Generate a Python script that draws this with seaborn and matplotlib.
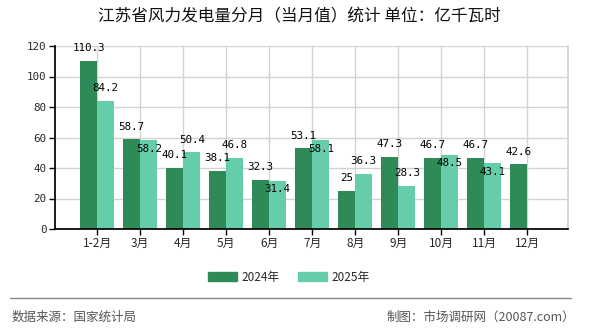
import numpy as np
import pandas as pd
import matplotlib
matplotlib.use("Agg")
import matplotlib.pyplot as plt
from matplotlib.lines import Line2D
from matplotlib.patches import Patch
import seaborn as sns

# --- data ---
months = ["1-2月", "3月", "4月", "5月", "6月", "7月", "8月", "9月", "10月", "11月", "12月"]
vals_2024 = [110.3, 58.7, 40.1, 38.1, 32.3, 53.1, 25, 47.3, 46.7, 46.7, 42.6]
vals_2025 = [84.2, 58.2, 50.4, 46.8, 31.4, 58.1, 36.3, 28.3, 48.5, 43.1, np.nan]
years = ["2024年", "2025年"]
colors = ["#2e8b57", "#66cdaa"]

df = pd.DataFrame({
    "month": months * 2,
    "year": [years[0]] * len(months) + [years[1]] * len(months),
    "value": vals_2024 + vals_2025,
})

sns.set_theme(style="white")
plt.rcParams["font.family"] = ["Noto Sans CJK SC", "DejaVu Sans"]

W, H = 590, 330
fig = plt.figure(figsize=(W / 100, H / 100), dpi=100)
ax = fig.add_axes([55 / W, 1 - 229 / H, (568 - 55) / W, (229 - 46) / H])

sns.barplot(data=df, x="month", y="value", hue="year", hue_order=years,
            palette=colors, width=0.8, saturation=1, linewidth=0,
            ax=ax, legend=False)

ax.set_xlim(-0.98, 10.95)
ax.set_ylim(0, 120)
ax.set_yticks(range(0, 121, 20))
ax.set_xlabel("")
ax.set_ylabel("")
ax.set_axisbelow(True)
ax.grid(True, color="#d3d3d3", lw=1)
ax.spines["top"].set_visible(False)
ax.spines["right"].set_color("#d3d3d3")
ax.spines["left"].set_color("black")
ax.spines["bottom"].set_color("black")
ax.tick_params(axis="both", direction="out", length=4, width=1, color="black",
               left=True, bottom=True, pad=2)
for t in ax.get_yticklabels():
    t.set_fontfamily("DejaVu Sans Mono")
    t.set_fontsize(7.8)
for t in ax.get_xticklabels():
    t.set_fontsize(8.5)

# value labels; 2025 labels go inside the bar when they would hit the 2024 label
for k, cont in enumerate(ax.containers):
    for bar in cont:
        h = bar.get_height()
        if np.isnan(h) or h == 0:
            continue
        xc = bar.get_x() + bar.get_width() / 2
        i = int(round(xc))
        if k == 1 and abs(vals_2025[i] - vals_2024[i]) < 7:
            dy = -6
        else:
            dy = 9
        ax.annotate(f"{h:g}", (xc, h), xytext=(0, dy), textcoords="offset points",
                    ha="center", va="center", fontsize=7.8,
                    family="DejaVu Sans Mono", color="black")

fig.text(299 / W, 1 - 17 / H, "江苏省风力发电量分月（当月值）统计 单位：亿千瓦时",
         ha="center", va="center", fontsize=12, color="#111111", fontweight="medium")

handles = [Patch(color=c, label=y) for c, y in zip(colors, years)]
fig.legend(handles=handles, loc="center", bbox_to_anchor=(289 / W, 1 - 277 / H),
           ncol=2, frameon=False, fontsize=8.5, handlelength=2.4, handleheight=0.9,
           handletextpad=0.4, columnspacing=1.6)

fig.add_artist(Line2D([10 / W, 571 / W], [1 - 298 / H] * 2, color="#888888", lw=1))
fig.text(12 / W, 1 - 317 / H, "数据来源：国家统计局", ha="left", va="center",
         fontsize=9, color="#555555")
fig.text(575 / W, 1 - 317 / H, "制图：市场调研网（20087.com）", ha="right", va="center",
         fontsize=9, color="#555555")

fig.savefig("out.png", dpi=100)
